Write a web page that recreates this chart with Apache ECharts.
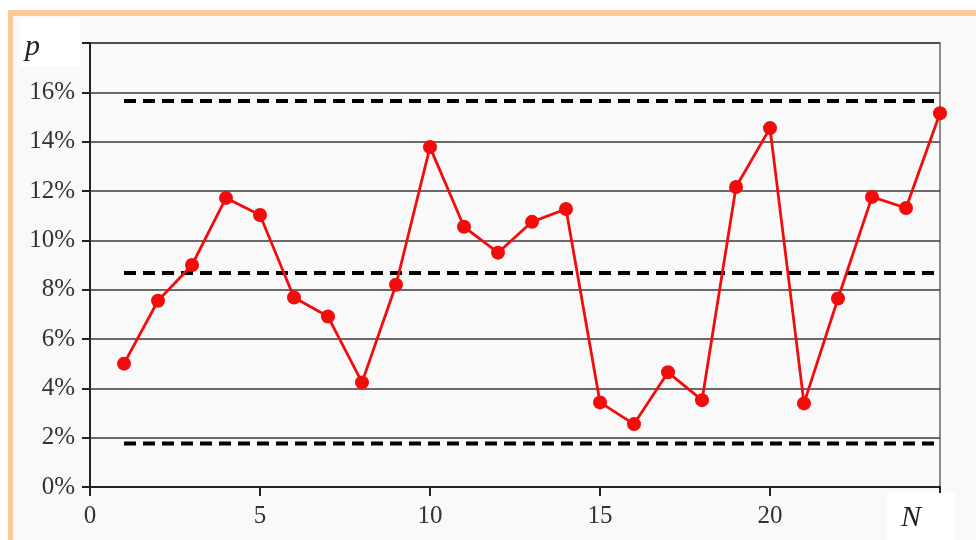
<!DOCTYPE html>
<html>
<head>
<meta charset="utf-8">
<style>
  html, body { margin: 0; padding: 0; background: #ffffff; }
  #frame {
    position: absolute; left: 8px; top: 10px; width: 980px; height: 540px;
    border-top: 6px solid #fdc998; border-left: 5px solid #fdc998;
    background: #f9f9f9;
  }
  #chart { position: absolute; left: 0; top: 0; width: 976px; height: 540px; }
</style>
<script src="https://cdn.jsdelivr.net/npm/echarts@6/dist/echarts.min.js"></script>
</head>
<body>
<div id="frame"></div>
<div id="chart"></div>
<script>
// sample number and proportion (%)
const samples = [1, 2, 3, 4, 5, 6, 7, 8, 9, 10, 11, 12, 13, 14, 15, 16, 17, 18, 19, 20, 21, 22, 23, 24, 25];
const pValues = [5.0, 7.55, 9.0, 11.72, 11.03, 7.68, 6.91, 4.24, 8.2, 13.78, 10.55, 9.5, 10.75, 11.27,
  3.43, 2.55, 4.65, 3.52, 12.16, 14.55, 3.39, 7.64, 11.76, 11.31, 15.15];
// control limits (%)
const ucl = 15.65;
const cl = 8.68;
const lcl = 1.76;
const xTicks = [0, 5, 10, 15, 20];

const serif = "Liberation Serif";

function limitLine(v) {
  return {
    type: "line",
    data: [[samples[0], v], [samples[samples.length - 1], v]],
    symbol: "none",
    silent: true,
    lineStyle: { color: "#000", width: 4, type: [12, 7] },
    z: 3,
  };
}

const chart = echarts.init(document.getElementById("chart"));
const option = {
  animation: false,
  grid: {
    left: 90, right: 36, top: 43, bottom: 53,
    show: true, borderColor: "#666", borderWidth: 1.5, backgroundColor: "transparent",
  },
  xAxis: {
    type: "value", min: 0, max: 25, interval: 5,
    axisLine: { lineStyle: { color: "#222", width: 2 } },
    axisTick: { show: true, length: 9, lineStyle: { color: "#222", width: 2 } },
    splitLine: { show: false },
    axisLabel: {
      color: "#333", fontFamily: serif, fontSize: 25, margin: 17,
      formatter: (v) => (xTicks.indexOf(v) >= 0 ? String(v) : ""),
    },
  },
  yAxis: {
    type: "value", min: 0, max: 18, interval: 2,
    axisLine: { show: true, lineStyle: { color: "#222", width: 2 } },
    axisTick: { show: true, length: 8, lineStyle: { color: "#222", width: 2 } },
    splitLine: { lineStyle: { color: "#3a3a3a", width: 1.5 } },
    axisLabel: {
      color: "#333", fontFamily: serif, fontSize: 25, margin: 15,
      formatter: (v) => (v === 18 ? "" : v + "%"),
    },
  },
  graphic: [
    { type: "rect", left: 20, top: 18, shape: { width: 60, height: 48 }, style: { fill: "#ffffff" }, z: 1 },
    { type: "text", left: 25, top: 32, style: { text: "p", font: "italic 30px 'Liberation Serif'", fill: "#222" }, z: 2 },
    { type: "rect", left: 887, top: 493, shape: { width: 68, height: 47 }, style: { fill: "#ffffff" }, z: 1 },
    { type: "text", left: 901, top: 503, style: { text: "N", font: "italic 30px 'Liberation Serif'", fill: "#222" }, z: 2 },
  ],
  series: [
    limitLine(ucl),
    limitLine(cl),
    limitLine(lcl),
    {
      type: "line",
      data: samples.map((s, i) => [s, pValues[i]]),
      symbol: "circle",
      symbolSize: 14,
      itemStyle: { color: "#f20c0c" },
      lineStyle: { color: "#f20c0c", width: 2.8 },
      z: 4,
    },
  ],
};
chart.setOption(option);
</script>
</body>
</html>
